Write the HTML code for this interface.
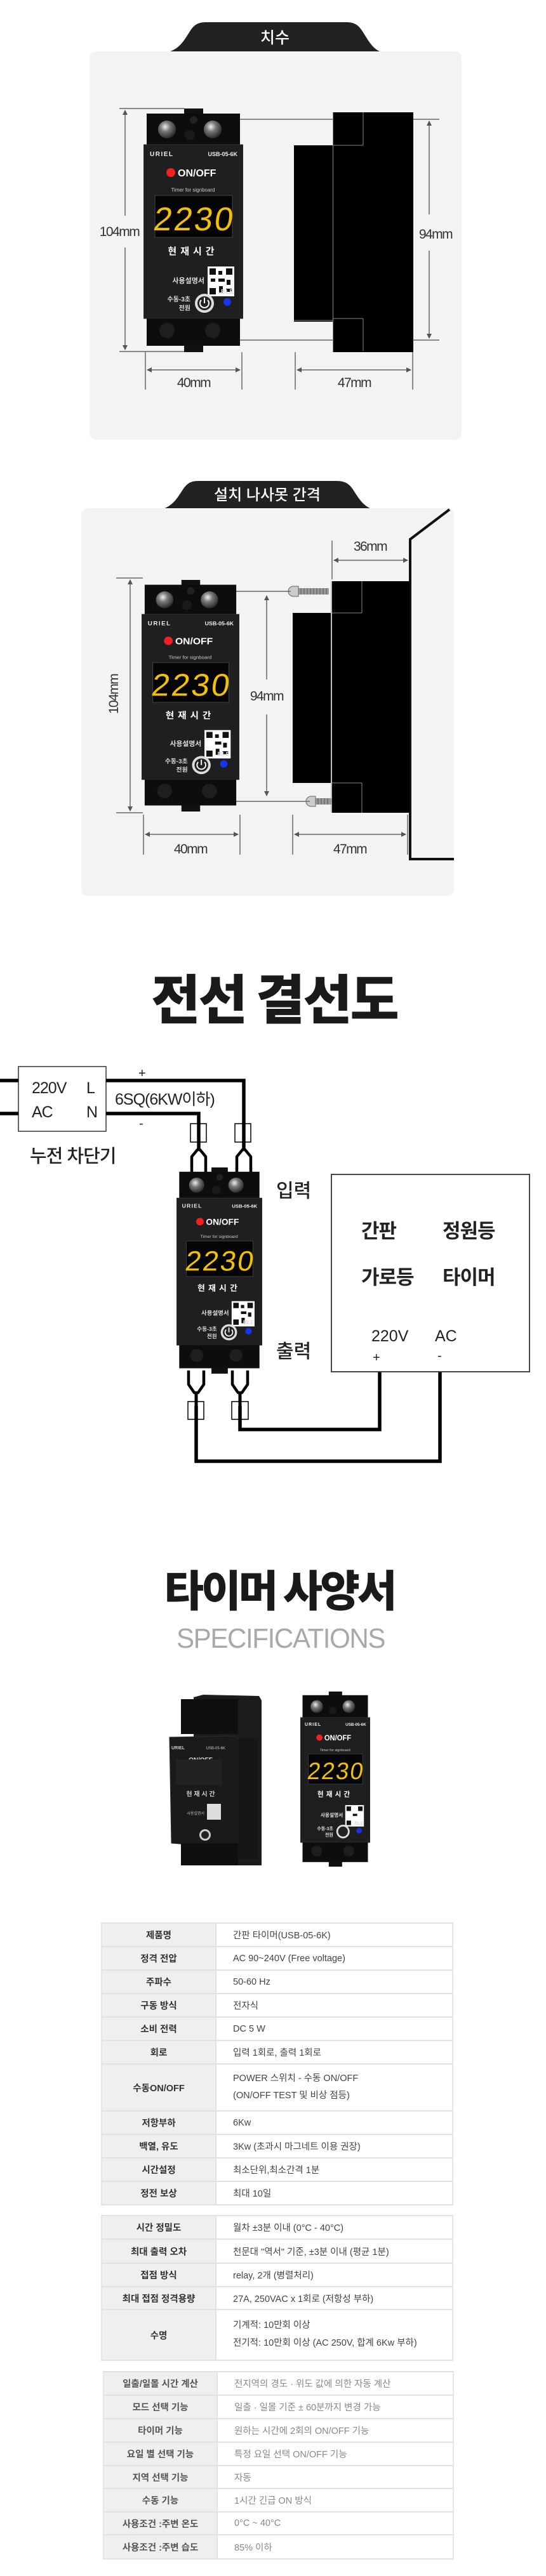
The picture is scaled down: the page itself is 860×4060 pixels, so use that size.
<!DOCTYPE html>
<html><head><meta charset="utf-8"><style>
html,body{margin:0;padding:0;background:#fff;}
body{width:860px;height:4060px;position:relative;overflow:hidden;font-family:"Liberation Sans","Noto Sans CJK KR",sans-serif;}
.abs{position:absolute;}
.title{position:absolute;left:0;width:860px;text-align:center;font-weight:900;color:#1a1a1a;font-family:"Noto Sans CJK KR","Liberation Sans",sans-serif;}
table{position:absolute;border-collapse:collapse;font-family:"Liberation Sans","Noto Sans CJK KR",sans-serif;}
td{border-top:2px solid #e2e2e2;border-bottom:2px solid #e2e2e2;padding:0;font-size:14.5px;}
td.l{background:#efefef;text-align:center;font-weight:700;color:#333;border-right:2px solid #e2e2e2;}
td.v{background:#fff;color:#444;padding-left:26px;}
table.t3 td.l{color:#555;font-weight:600;}
table.t3 td.v{color:#888;}
table{border-left:2px solid #e6e6e6;border-right:2px solid #e6e6e6;}
</style></head><body>

<svg class="abs" style="left:0;top:0" width="860" height="2960" viewBox="0 0 860 2960" xmlns="http://www.w3.org/2000/svg" font-family="Liberation Sans, Noto Sans CJK KR, sans-serif">
<defs>
<radialGradient id="scr" cx="0.4" cy="0.35" r="0.7"><stop offset="0" stop-color="#eee"/><stop offset="0.4" stop-color="#777"/><stop offset="1" stop-color="#222"/></radialGradient>
<marker id="ar" markerWidth="8" markerHeight="8" refX="7" refY="4" orient="auto-start-reverse" markerUnits="userSpaceOnUse"><path d="M0,0 L8,4 L0,8 z" fill="#555"/></marker>
</defs>

<!-- ===== Section 1: 치수 ===== -->
<path d="M268,81 C285,75 292,60 300,48 C306,39 312,35 325,35 L545,35 C558,35 564,39 570,48 C578,60 585,75 598,81 Z" fill="#222"/>
<text x="433" y="68" font-size="25" fill="#fff" text-anchor="middle" font-weight="500">치수</text>
<rect x="141" y="81" width="586" height="612" rx="10" fill="#f3f3f3"/>

<!-- dims -->
<g stroke="#666" stroke-width="1.5" fill="none">
<line x1="188" y1="171" x2="290" y2="171"/><line x1="188" y1="554" x2="290" y2="554"/>
<line x1="197" y1="174" x2="197" y2="340" marker-start="url(#ar)"/><line x1="197" y1="390" x2="197" y2="551" marker-end="url(#ar)"/>
<line x1="306" y1="188" x2="692" y2="188"/><line x1="306" y1="536" x2="692" y2="536"/>
<line x1="676" y1="191" x2="676" y2="338" marker-start="url(#ar)"/><line x1="676" y1="395" x2="676" y2="533" marker-end="url(#ar)"/>
<line x1="229" y1="555" x2="229" y2="614"/><line x1="381" y1="555" x2="381" y2="614"/>
<line x1="232" y1="583" x2="378" y2="583" marker-start="url(#ar)" marker-end="url(#ar)"/>
<line x1="465" y1="555" x2="465" y2="614"/><line x1="650" y1="555" x2="650" y2="614"/>
<line x1="468" y1="583" x2="647" y2="583" marker-start="url(#ar)" marker-end="url(#ar)"/>
</g>
<g font-size="21" fill="#333" letter-spacing="-1.5">
<text x="188" y="372" text-anchor="middle">104mm</text>
<text x="686" y="376" text-anchor="middle">94mm</text>
<text x="305" y="610" text-anchor="middle">40mm</text>
<text x="558" y="610" text-anchor="middle">47mm</text>
</g>
<!-- side view 1 -->
<rect x="525" y="177" width="126" height="378" fill="#000"/>
<rect x="463" y="229" width="61" height="278" fill="#000"/>
<g stroke="#888" stroke-width="1"><line x1="524.5" y1="177" x2="524.5" y2="555"/><line x1="572" y1="177" x2="572" y2="229"/><line x1="525" y1="229" x2="572" y2="229"/><line x1="572" y1="502" x2="572" y2="553"/><line x1="525" y1="502" x2="572" y2="502"/><line x1="463" y1="505" x2="524" y2="505"/></g>

<!-- device 1 -->
<svg x="226" y="171" width="157" height="384" viewBox="0 0 157 384" preserveAspectRatio="none">
<rect x="64" y="0" width="30" height="12" fill="#111"/>
<rect x="5" y="8" width="147" height="50" fill="#0d0d0d"/>
<circle cx="37" cy="33" r="14" fill="url(#scr)"/><circle cx="109" cy="33" r="14" fill="url(#scr)"/>
<circle cx="79" cy="18" r="6" fill="#222"/><circle cx="73" cy="42" r="8" fill="#1a1a1a"/>
<rect x="0" y="57" width="157" height="274" fill="#1f1f21" stroke="#333"/>
<text x="10" y="75" font-size="10" font-weight="700" fill="#eee" letter-spacing="1.5">URIEL</text>
<text x="148" y="75" font-size="9" font-weight="700" fill="#eee" text-anchor="end">USB-05-6K</text>
<circle cx="43" cy="101" r="7" fill="#e22"/>
<text x="54" y="107" font-size="16" font-weight="700" fill="#fff">ON/OFF</text>
<text x="78" y="131" font-size="8" fill="#ccc" text-anchor="middle">Timer for signboard</text>
<rect x="18" y="137" width="122" height="66" fill="#050505" stroke="#444"/>
<text x="79" y="192" font-size="52" fill="#f2c200" text-anchor="middle" transform="skewX(-8) translate(26 0)" letter-spacing="3">2230</text>
<text x="78" y="230" font-size="15" font-weight="700" fill="#fff" text-anchor="middle" letter-spacing="6">현재시간</text>
<text x="96" y="275" font-size="11" font-weight="700" fill="#ddd" text-anchor="end">사용설명서</text>
<rect x="101" y="249" width="42" height="47" fill="#fff"/>
<g fill="#111"><rect x="104" y="252" width="10" height="10"/><rect x="130" y="252" width="10" height="10"/><rect x="104" y="283" width="10" height="10"/><rect x="118" y="256" width="6" height="6"/><rect x="118" y="268" width="10" height="5"/><rect x="131" y="270" width="6" height="8"/><rect x="119" y="280" width="6" height="10"/><rect x="130" y="284" width="9" height="5"/><rect x="106" y="268" width="7" height="5"/></g>
<text x="74" y="304" font-size="10" font-weight="700" fill="#ddd" text-anchor="end">수동-3초</text>
<text x="74" y="318" font-size="10" font-weight="700" fill="#ddd" text-anchor="end">전원</text>
<circle cx="96" cy="307" r="15" fill="#ddd"/><circle cx="96" cy="307" r="11" fill="#222"/>
<path d="M91,302 A7,7 0 1 0 101,302" stroke="#fff" stroke-width="2" fill="none"/><line x1="96" y1="298" x2="96" y2="307" stroke="#fff" stroke-width="2"/>
<text x="132" y="292" font-size="10" font-weight="700" fill="#ddd" text-anchor="middle">BLE</text>
<circle cx="132" cy="305" r="6" fill="#1a33ee"/>
<rect x="5" y="331" width="147" height="43" fill="#0d0d0d"/>
<circle cx="37" cy="350" r="12" fill="#1e1e1e"/><circle cx="109" cy="350" r="12" fill="#1e1e1e"/>
<rect x="64" y="372" width="30" height="12" fill="#111"/>
</svg>

<!-- ===== Section 2: 설치 나사못 간격 ===== -->
<path d="M257,802 C274,796 281,782 289,770 C295,762 300,758 313,758 L530,758 C543,758 549,762 555,770 C563,782 570,796 585,802 Z" fill="#222"/>
<text x="421" y="788" font-size="24" fill="#fff" text-anchor="middle" font-weight="500">설치 나사못 간격</text>
<rect x="128" y="801" width="587" height="611" rx="10" fill="#f3f3f3"/>
<!-- wall -->
<path d="M708,803 L646,850 L646,1354 L715,1354" stroke="#111" stroke-width="4" fill="none"/>
<!-- side -->
<rect x="523" y="916" width="122" height="365" fill="#000"/>
<rect x="461" y="966" width="60" height="268" fill="#000"/>
<g stroke="#888" stroke-width="1"><line x1="522" y1="916" x2="522" y2="1281"/><line x1="570" y1="916" x2="570" y2="966"/><line x1="523" y1="966" x2="570" y2="966"/><line x1="570" y1="1234" x2="570" y2="1281"/><line x1="523" y1="1234" x2="570" y2="1234"/></g>
<!-- screws -->
<g>
<rect x="470" y="927" width="48" height="10" fill="#999"/><path d="M470,924 L462,924 A8,8 0 0 0 462,940 L470,940 Z" fill="#ccc" stroke="#666"/>
<g stroke="#555" stroke-width="1"><line x1="474" y1="927" x2="474" y2="937"/><line x1="479" y1="927" x2="479" y2="937"/><line x1="484" y1="927" x2="484" y2="937"/><line x1="489" y1="927" x2="489" y2="937"/><line x1="494" y1="927" x2="494" y2="937"/><line x1="499" y1="927" x2="499" y2="937"/><line x1="504" y1="927" x2="504" y2="937"/><line x1="509" y1="927" x2="509" y2="937"/><line x1="514" y1="927" x2="514" y2="937"/></g>
<rect x="497" y="1258" width="26" height="10" fill="#999"/><path d="M497,1255 L490,1255 A8,8 0 0 0 490,1271 L497,1271 Z" fill="#ccc" stroke="#666"/>
<g stroke="#555" stroke-width="1"><line x1="501" y1="1258" x2="501" y2="1268"/><line x1="506" y1="1258" x2="506" y2="1268"/><line x1="511" y1="1258" x2="511" y2="1268"/><line x1="516" y1="1258" x2="516" y2="1268"/></g>
</g>
<g stroke="#666" stroke-width="1.5" fill="none">
<line x1="300" y1="932" x2="458" y2="932"/><line x1="300" y1="1263" x2="488" y2="1263"/>
<line x1="183" y1="911" x2="225" y2="911"/><line x1="183" y1="1281" x2="225" y2="1281"/>
<line x1="205" y1="914" x2="205" y2="1278" marker-start="url(#ar)" marker-end="url(#ar)"/>
<line x1="420" y1="939" x2="420" y2="1071" marker-start="url(#ar)"/><line x1="420" y1="1126" x2="420" y2="1254" marker-end="url(#ar)"/>
<line x1="523" y1="852" x2="523" y2="913"/>
<line x1="526" y1="883" x2="642" y2="883" marker-start="url(#ar)" marker-end="url(#ar)"/>
<line x1="226" y1="1284" x2="226" y2="1347"/><line x1="378" y1="1284" x2="378" y2="1347"/>
<line x1="229" y1="1315" x2="375" y2="1315" marker-start="url(#ar)" marker-end="url(#ar)"/>
<line x1="461" y1="1284" x2="461" y2="1347"/><line x1="642" y1="1284" x2="642" y2="1347"/>
<line x1="464" y1="1315" x2="639" y2="1315" marker-start="url(#ar)" marker-end="url(#ar)"/>
</g>
<g font-size="21" fill="#333" letter-spacing="-1.5">
<text x="0" y="0" text-anchor="middle" transform="translate(186 1094) rotate(-90)">104mm</text>
<text x="420" y="1104" text-anchor="middle">94mm</text>
<text x="583" y="868" text-anchor="middle">36mm</text>
<text x="300" y="1345" text-anchor="middle">40mm</text>
<text x="551" y="1345" text-anchor="middle">47mm</text>
</g>
<!-- device 2 -->
<svg x="223" y="914" width="154" height="365" viewBox="0 0 157 384" preserveAspectRatio="none">
<rect x="64" y="0" width="30" height="12" fill="#111"/>
<rect x="5" y="8" width="147" height="50" fill="#0d0d0d"/>
<circle cx="37" cy="33" r="14" fill="url(#scr)"/><circle cx="109" cy="33" r="14" fill="url(#scr)"/>
<circle cx="79" cy="18" r="6" fill="#222"/><circle cx="73" cy="42" r="8" fill="#1a1a1a"/>
<rect x="0" y="57" width="157" height="274" fill="#1f1f21" stroke="#333"/>
<text x="10" y="75" font-size="10" font-weight="700" fill="#eee" letter-spacing="1.5">URIEL</text>
<text x="148" y="75" font-size="9" font-weight="700" fill="#eee" text-anchor="end">USB-05-6K</text>
<circle cx="43" cy="101" r="7" fill="#e22"/>
<text x="54" y="107" font-size="16" font-weight="700" fill="#fff">ON/OFF</text>
<text x="78" y="131" font-size="8" fill="#ccc" text-anchor="middle">Timer for signboard</text>
<rect x="18" y="137" width="122" height="66" fill="#050505" stroke="#444"/>
<text x="79" y="192" font-size="52" fill="#f2c200" text-anchor="middle" transform="skewX(-8) translate(26 0)" letter-spacing="3">2230</text>
<text x="78" y="230" font-size="15" font-weight="700" fill="#fff" text-anchor="middle" letter-spacing="6">현재시간</text>
<text x="96" y="275" font-size="11" font-weight="700" fill="#ddd" text-anchor="end">사용설명서</text>
<rect x="101" y="249" width="42" height="47" fill="#fff"/>
<g fill="#111"><rect x="104" y="252" width="10" height="10"/><rect x="130" y="252" width="10" height="10"/><rect x="104" y="283" width="10" height="10"/><rect x="118" y="256" width="6" height="6"/><rect x="118" y="268" width="10" height="5"/><rect x="131" y="270" width="6" height="8"/><rect x="119" y="280" width="6" height="10"/><rect x="130" y="284" width="9" height="5"/></g>
<text x="74" y="304" font-size="10" font-weight="700" fill="#ddd" text-anchor="end">수동-3초</text>
<text x="74" y="318" font-size="10" font-weight="700" fill="#ddd" text-anchor="end">전원</text>
<circle cx="96" cy="307" r="15" fill="#ddd"/><circle cx="96" cy="307" r="11" fill="#222"/>
<path d="M91,302 A7,7 0 1 0 101,302" stroke="#fff" stroke-width="2" fill="none"/><line x1="96" y1="298" x2="96" y2="307" stroke="#fff" stroke-width="2"/>
<text x="132" y="292" font-size="10" font-weight="700" fill="#ddd" text-anchor="middle">BLE</text>
<circle cx="132" cy="305" r="6" fill="#1a33ee"/>
<rect x="5" y="331" width="147" height="43" fill="#0d0d0d"/>
<circle cx="37" cy="350" r="12" fill="#1e1e1e"/><circle cx="109" cy="350" r="12" fill="#1e1e1e"/>
<rect x="64" y="372" width="30" height="12" fill="#111"/>
</svg>

<!-- ===== Section 3: wiring ===== -->
<text x="432" y="1606" font-size="84" font-weight="900" fill="#1a1a1a" text-anchor="middle" letter-spacing="-3" font-family="Noto Sans CJK KR, sans-serif">전선 결선도</text>

<rect x="29" y="1681" width="138" height="102" fill="#fff" stroke="#333" stroke-width="1.5"/>
<g font-size="25" fill="#222" letter-spacing="-1">
<text x="50" y="1723">220V</text><text x="136" y="1723">L</text>
<text x="50" y="1761">AC</text><text x="136" y="1761">N</text>
</g>
<g stroke="#000" stroke-width="5.5" fill="none" stroke-linejoin="miter">
<line x1="0" y1="1703" x2="29" y2="1703"/><line x1="0" y1="1755" x2="29" y2="1755"/>
<polyline points="167,1703 384,1703 384,1812"/>
<polyline points="167,1755 313,1755 313,1812"/>
<polyline points="378,2216 378,2253 598,2253 598,2162"/>
<polyline points="309,2216 309,2303 693,2303 693,2162"/>
</g>
<g font-size="20" fill="#222"><text x="218" y="1698">+</text><text x="219" y="1777">-</text></g>
<text x="181" y="1741" font-size="25" fill="#222" letter-spacing="-1">6SQ(6KW이하)</text>
<text x="47" y="1832" font-size="29" fill="#222" font-weight="500" letter-spacing="-1">누전 차단기</text>

<!-- forks top -->
<g stroke="#000" stroke-width="4.5" fill="none" stroke-linejoin="round">
<path d="M302,1847 L302,1823 L311,1812 L315,1812 L324,1823 L324,1847"/>
<path d="M373,1847 L373,1823 L382,1812 L386,1812 L395,1823 L395,1847"/>
<path d="M297,2160 L297,2182 L306,2195 L312,2195 L321,2182 L321,2160"/>
<path d="M366,2160 L366,2182 L375,2195 L381,2195 L390,2182 L390,2160"/>
</g>
<g stroke="#000" stroke-width="5"><line x1="309" y1="2195" x2="309" y2="2216"/><line x1="378" y1="2195" x2="378" y2="2216"/></g>
<g fill="none" stroke="#000" stroke-width="1.5">
<rect x="300" y="1771" width="25" height="29"/><rect x="370" y="1771" width="25" height="29"/>
<rect x="296" y="2209" width="25" height="28"/><rect x="365" y="2209" width="26" height="28"/>
</g>
<g font-size="30" fill="#222" font-weight="500"><text x="435" y="1887">입력</text><text x="435" y="2140">출력</text></g>
<rect x="522" y="1851" width="312" height="311" fill="#fff" stroke="#333" stroke-width="1.8"/>
<g font-size="31" fill="#222" font-weight="700" letter-spacing="-1">
<text x="569" y="1951">간판</text><text x="697" y="1951">정원등</text>
<text x="569" y="2024">가로등</text><text x="697" y="2024">타이머</text>
</g>
<g font-size="25" fill="#222"><text x="585" y="2114">220V</text><text x="685" y="2114">AC</text>
<text x="587" y="2146" font-size="20">+</text><text x="689" y="2143" font-size="20">-</text></g>

<!-- device 3 -->
<svg x="278" y="1840" width="135" height="325" viewBox="0 0 157 384" preserveAspectRatio="none">
<rect x="64" y="0" width="30" height="12" fill="#111"/>
<rect x="5" y="8" width="147" height="50" fill="#0d0d0d"/>
<circle cx="37" cy="33" r="14" fill="url(#scr)"/><circle cx="109" cy="33" r="14" fill="url(#scr)"/>
<circle cx="79" cy="18" r="6" fill="#222"/><circle cx="73" cy="42" r="8" fill="#1a1a1a"/>
<rect x="0" y="57" width="157" height="274" fill="#1f1f21" stroke="#333"/>
<text x="10" y="75" font-size="10" font-weight="700" fill="#eee" letter-spacing="1.5">URIEL</text>
<text x="148" y="75" font-size="9" font-weight="700" fill="#eee" text-anchor="end">USB-05-6K</text>
<circle cx="43" cy="101" r="7" fill="#e22"/>
<text x="54" y="107" font-size="16" font-weight="700" fill="#fff">ON/OFF</text>
<text x="78" y="131" font-size="8" fill="#ccc" text-anchor="middle">Timer for signboard</text>
<rect x="18" y="137" width="122" height="66" fill="#050505" stroke="#444"/>
<text x="79" y="192" font-size="52" fill="#f2c200" text-anchor="middle" transform="skewX(-8) translate(26 0)" letter-spacing="3">2230</text>
<text x="78" y="230" font-size="15" font-weight="700" fill="#fff" text-anchor="middle" letter-spacing="6">현재시간</text>
<text x="96" y="275" font-size="11" font-weight="700" fill="#ddd" text-anchor="end">사용설명서</text>
<rect x="101" y="249" width="42" height="47" fill="#fff"/>
<g fill="#111"><rect x="104" y="252" width="10" height="10"/><rect x="130" y="252" width="10" height="10"/><rect x="104" y="283" width="10" height="10"/><rect x="118" y="256" width="6" height="6"/><rect x="118" y="268" width="10" height="5"/><rect x="131" y="270" width="6" height="8"/><rect x="119" y="280" width="6" height="10"/></g>
<text x="74" y="304" font-size="10" font-weight="700" fill="#ddd" text-anchor="end">수동-3초</text>
<text x="74" y="318" font-size="10" font-weight="700" fill="#ddd" text-anchor="end">전원</text>
<circle cx="96" cy="307" r="15" fill="#ddd"/><circle cx="96" cy="307" r="11" fill="#222"/>
<path d="M91,302 A7,7 0 1 0 101,302" stroke="#fff" stroke-width="2" fill="none"/><line x1="96" y1="298" x2="96" y2="307" stroke="#fff" stroke-width="2"/>
<text x="132" y="292" font-size="10" font-weight="700" fill="#ddd" text-anchor="middle">BLE</text>
<circle cx="132" cy="305" r="6" fill="#1a33ee"/>
<rect x="5" y="331" width="147" height="43" fill="#0d0d0d"/>
<circle cx="37" cy="350" r="12" fill="#1e1e1e"/><circle cx="109" cy="350" r="12" fill="#1e1e1e"/>
<rect x="64" y="372" width="30" height="12" fill="#111"/>
</svg>

<!-- ===== Section 4: spec header ===== -->
<text x="440" y="2532" font-size="68" font-weight="900" fill="#1a1a1a" text-anchor="middle" letter-spacing="-4" font-family="Noto Sans CJK KR, sans-serif">타이머 사양서</text>
<text x="442" y="2597" font-size="44" fill="#a9a9a9" text-anchor="middle" font-family="Liberation Sans Narrow, Liberation Sans, sans-serif" letter-spacing="-1.5" textLength="328" lengthAdjust="spacingAndGlyphs">SPECIFICATIONS</text>

<!-- angled device -->
<g>
<polygon points="305,2675 320,2671 408,2673 412,2680 412,2940 340,2940 330,2934 330,2920 305,2910" fill="#1c1c1c"/>
<rect x="285" y="2678" width="90" height="55" fill="#0f0f0f"/>
<polygon points="267,2738 370,2736 375,2740 375,2913 270,2905" fill="#1a1a1a" stroke="#2a2a2a"/>
<rect x="375" y="2740" width="32" height="190" fill="#161616"/>
<rect x="285" y="2905" width="90" height="35" fill="#0f0f0f"/>
<text x="270" y="2737" font-size="7" fill="#ccc" font-weight="700" transform="translate(0 20)">URIEL</text>
<text x="355" y="2757" font-size="6" fill="#ccc" text-anchor="end">USB-05-6K</text>
<text x="316" y="2752" font-size="10" fill="#ddd" text-anchor="middle" font-weight="700" transform="translate(0 25)">ON/OFF</text>
<rect x="277" y="2773" width="73" height="40" fill="#222"/>
<text x="316" y="2831" font-size="10" fill="#ccc" text-anchor="middle" font-weight="700">현 재 시 간</text>
<rect x="326" y="2843" width="22" height="25" fill="#ddd"/>
<text x="322" y="2860" font-size="6" fill="#bbb" text-anchor="end">사용설명서</text>
<circle cx="323" cy="2892" r="9" fill="#ccc"/><circle cx="323" cy="2892" r="6" fill="#222"/>
</g>
<!-- device 4 -->
<svg x="473" y="2666" width="110" height="276" viewBox="0 0 157 384" preserveAspectRatio="none">
<rect x="64" y="0" width="30" height="12" fill="#111"/>
<rect x="5" y="8" width="147" height="50" fill="#0d0d0d"/>
<circle cx="37" cy="33" r="14" fill="url(#scr)"/><circle cx="109" cy="33" r="14" fill="url(#scr)"/>
<circle cx="73" cy="42" r="8" fill="#1a1a1a"/>
<rect x="0" y="57" width="157" height="274" fill="#1f1f21" stroke="#333"/>
<text x="10" y="75" font-size="10" font-weight="700" fill="#eee" letter-spacing="1.5">URIEL</text>
<text x="148" y="75" font-size="9" font-weight="700" fill="#eee" text-anchor="end">USB-05-6K</text>
<circle cx="43" cy="101" r="7" fill="#e22"/>
<text x="54" y="107" font-size="16" font-weight="700" fill="#fff">ON/OFF</text>
<text x="78" y="131" font-size="8" fill="#ccc" text-anchor="middle">Timer for signboard</text>
<rect x="18" y="137" width="122" height="66" fill="#050505" stroke="#444"/>
<text x="79" y="192" font-size="52" fill="#f2c200" text-anchor="middle" transform="skewX(-8) translate(26 0)" letter-spacing="3">2230</text>
<text x="78" y="230" font-size="15" font-weight="700" fill="#fff" text-anchor="middle" letter-spacing="6">현재시간</text>
<text x="96" y="275" font-size="11" font-weight="700" fill="#ddd" text-anchor="end">사용설명서</text>
<rect x="101" y="249" width="42" height="47" fill="#fff"/>
<g fill="#111"><rect x="104" y="252" width="10" height="10"/><rect x="130" y="252" width="10" height="10"/><rect x="104" y="283" width="10" height="10"/><rect x="118" y="268" width="10" height="5"/></g>
<text x="74" y="304" font-size="10" font-weight="700" fill="#ddd" text-anchor="end">수동-3초</text>
<text x="74" y="318" font-size="10" font-weight="700" fill="#ddd" text-anchor="end">전원</text>
<circle cx="96" cy="307" r="15" fill="#ddd"/><circle cx="96" cy="307" r="11" fill="#222"/>
<text x="132" y="292" font-size="10" font-weight="700" fill="#ddd" text-anchor="middle">BLE</text>
<circle cx="132" cy="305" r="6" fill="#1a33ee"/>
<rect x="5" y="331" width="147" height="43" fill="#0d0d0d"/>
<circle cx="37" cy="350" r="12" fill="#1e1e1e"/><circle cx="109" cy="350" r="12" fill="#1e1e1e"/>
<rect x="64" y="372" width="30" height="12" fill="#111"/>
</svg>
</svg>

<table style="left:159px;top:3030px;width:555px;">
<colgroup><col style="width:180px"><col></colgroup>
<tr style="height:37px"><td class="l">제품명</td><td class="v">간판 타이머(USB-05-6K)</td></tr>
<tr style="height:37px"><td class="l">정격 전압</td><td class="v">AC 90~240V (Free voltage)</td></tr>
<tr style="height:37px"><td class="l">주파수</td><td class="v">50-60 Hz</td></tr>
<tr style="height:37px"><td class="l">구동 방식</td><td class="v">전자식</td></tr>
<tr style="height:37px"><td class="l">소비 전력</td><td class="v">DC 5 W</td></tr>
<tr style="height:37px"><td class="l">회로</td><td class="v">입력 1회로, 출력 1회로</td></tr>
<tr style="height:74px"><td class="l">수동ON/OFF</td><td class="v" style="line-height:27px">POWER 스위치 - 수동 ON/OFF<br>(ON/OFF TEST 및 비상 점등)</td></tr>
<tr style="height:37px"><td class="l">저항부하</td><td class="v">6Kw</td></tr>
<tr style="height:37px"><td class="l">백열, 유도</td><td class="v">3Kw (초과시 마그네트 이용 권장)</td></tr>
<tr style="height:37px"><td class="l">시간설정</td><td class="v">최소단위,최소간격 1분</td></tr>
<tr style="height:37px"><td class="l">정전 보상</td><td class="v">최대 10일</td></tr>
</table>

<table style="left:159px;top:3491px;width:555px;">
<colgroup><col style="width:180px"><col></colgroup>
<tr style="height:37px"><td class="l">시간 정밀도</td><td class="v">월차 ±3분 이내 (0°C - 40°C)</td></tr>
<tr style="height:38px"><td class="l">최대 출력 오차</td><td class="v">천문대 "역서" 기준, ±3분 이내 (평균 1분)</td></tr>
<tr style="height:37px"><td class="l">접점 방식</td><td class="v">relay, 2개 (병렬처리)</td></tr>
<tr style="height:36px"><td class="l">최대 접점 정격용량</td><td class="v">27A, 250VAC x 1회로 (저항성 부하)</td></tr>
<tr style="height:80px"><td class="l">수명</td><td class="v" style="line-height:28px;vertical-align:top;padding-top:10px">기계적: 10만회 이상<br>전기적: 10만회 이상 (AC 250V, 합계 6Kw 부하)</td></tr>
</table>

<table class="t3" style="left:162px;top:3737px;width:553px;">
<colgroup><col style="width:179px"><col></colgroup>
<tr style="height:37px"><td class="l">일출/일몰 시간 계산</td><td class="v">전지역의 경도 · 위도 값에 의한 자동 계산</td></tr>
<tr style="height:37px"><td class="l">모드 선택 기능</td><td class="v">일출 · 일몰 기준 ± 60분까지 변경 가능</td></tr>
<tr style="height:37px"><td class="l">타이머 기능</td><td class="v">원하는 시간에 2회의 ON/OFF 기능</td></tr>
<tr style="height:37px"><td class="l">요일 별 선택 기능</td><td class="v">특정 요일 선택 ON/OFF 기능</td></tr>
<tr style="height:36px"><td class="l">지역 선택 기능</td><td class="v">자동</td></tr>
<tr style="height:37px"><td class="l">수동 기능</td><td class="v">1시간 긴급 ON 방식</td></tr>
<tr style="height:36px"><td class="l">사용조건 :주변 온도</td><td class="v">0°C ~ 40°C</td></tr>
<tr style="height:38px"><td class="l">사용조건 :주변 습도</td><td class="v">85% 이하</td></tr>
</table>

</body></html>
